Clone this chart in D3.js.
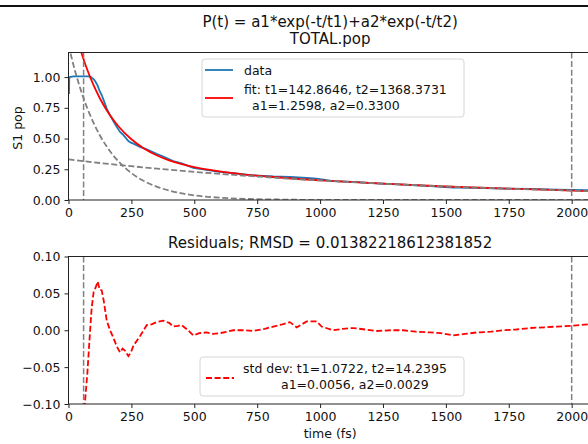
<!DOCTYPE html>
<html>
<head>
<meta charset="utf-8">
<script src="https://cdn.jsdelivr.net/npm/d3@7"></script>
<style>
  body { margin: 0; background: #fff; }
  text { font-family: "DejaVu Sans", sans-serif; fill: #111; }
</style>
</head>
<body>
<script>
// values
let dataT = [0, 1, 2, 3, 5, 20, 40, 60, 80, 90, 95, 100, 108, 116, 124, 132, 140, 152, 165, 178, 192, 205, 215, 225, 238, 248, 258, 284, 311, 350, 377, 416, 450, 496, 549, 601, 655, 735, 814, 880, 947, 986, 1053, 1132, 1225, 1331, 1437, 1529, 1622, 1728, 1834, 1940, 2000, 2065, 2080]
let dataPop = [1.0, 0.87, 0.87, 0.99, 1.0, 1.005, 1.005, 1.005, 1.005, 1.0, 0.99, 0.983, 0.96, 0.93, 0.885, 0.854, 0.81, 0.743, 0.69, 0.642, 0.593, 0.553, 0.535, 0.512, 0.48, 0.467, 0.459, 0.432, 0.412, 0.375, 0.354, 0.317, 0.298, 0.262, 0.245, 0.228, 0.218, 0.201, 0.191, 0.187, 0.179, 0.174, 0.153, 0.1475, 0.135, 0.1244, 0.113, 0.101, 0.098, 0.0933, 0.0895, 0.085, 0.0825, 0.081, 0.08]

let fitT = [0, 25, 50, 75, 100, 125, 150, 175, 200, 250, 300, 350, 400, 450, 500, 600, 700, 800, 900, 1000, 1250, 1500, 1750, 2000, 2080]
let fitPop = [1.590, 1.382, 1.206, 1.058, 0.932, 0.826, 0.737, 0.661, 0.596, 0.494, 0.419, 0.364, 0.323, 0.292, 0.267, 0.232, 0.207, 0.189, 0.173, 0.160, 0.133, 0.110, 0.092, 0.077, 0.072]

let comp1T = [0, 25, 50, 75, 100, 125, 150, 175, 200, 250, 300, 350, 400, 450, 500, 600, 700, 800, 900, 1000, 1250, 1500, 2080]
let comp1Pop = [1.26, 1.058, 0.888, 0.745, 0.626, 0.525, 0.441, 0.370, 0.311, 0.219, 0.154, 0.109, 0.077, 0.054, 0.038, 0.019, 0.009, 0.005, 0.002, 0.001, 0.0, 0.0, 0.0]

let comp2T = [0, 125, 250, 375, 500, 625, 750, 875, 1000, 1250, 1500, 1750, 2000, 2080]
let comp2Pop = [0.33, 0.301, 0.275, 0.251, 0.229, 0.209, 0.191, 0.174, 0.159, 0.133, 0.110, 0.092, 0.0765, 0.072]

let resT = [60, 66, 75, 85, 92, 100, 108, 116, 124, 132, 140, 152, 165, 178, 192, 205, 215, 225, 238, 248, 258, 284, 311, 330, 350, 377, 400, 416, 435, 450, 475, 496, 520, 549, 575, 601, 630, 655, 700, 735, 780, 814, 850, 880, 907, 947, 986, 1006, 1053, 1090, 1132, 1180, 1225, 1280, 1331, 1380, 1437, 1480, 1529, 1575, 1622, 1680, 1728, 1780, 1834, 1890, 1940, 2000, 2065, 2080]
let resVal = [-0.13, -0.095, -0.058, -0.005, 0.03, 0.052, 0.058, 0.066, 0.055, 0.054, 0.04, 0.013, 0.0, -0.01, -0.022, -0.03, -0.025, -0.028, -0.035, -0.03, -0.021, -0.008, 0.007, 0.008, 0.011, 0.013, 0.01, 0.005, 0.006, 0.007, 0.0, -0.007, -0.004, -0.003, -0.005, -0.004, -0.002, 0.0, 0.0, -0.001, 0.002, 0.005, 0.008, 0.011, 0.004, 0.012, 0.012, 0.005, 0.0, 0.002, 0.003, 0.001, -0.001, 0.0, 0.0, -0.002, -0.003, -0.004, -0.007, -0.005, -0.003, -0.002, 0.0, 0.001, 0.003, 0.004, 0.005, 0.006, 0.008, 0.008]

let fitRange = [60, 2000]
let xTicks = [0, 250, 500, 750, 1000, 1250, 1500, 1750, 2000]
let topTicks = [0, 0.25, 0.5, 0.75, 1.0]
let botTicks = [-0.1, -0.05, 0, 0.05, 0.1]

let w = 588
let h = 444
let svg = d3.select('body').append('svg').attr('width', w).attr('height', h)

let x = d3.scaleLinear().domain([0, 2080]).range([68.5, 591.8])
let yTop = d3.scaleLinear().domain([0, 1.2]).range([200, 52.5])
let yBot = d3.scaleLinear().domain([-0.1, 0.1]).range([404, 256.5])

// screenshot border line at the top
svg.append('line').attr('x1', 0).attr('x2', w).attr('y1', 6).attr('y2', 6)
  .attr('stroke', '#111').attr('stroke-width', 2)

let defs = svg.append('defs')
defs.append('clipPath').attr('id', 'clipTop').append('rect')
  .attr('x', x(0)).attr('y', yTop(1.2)).attr('width', x(2080) - x(0)).attr('height', yTop(0) - yTop(1.2))
defs.append('clipPath').attr('id', 'clipBot').append('rect')
  .attr('x', x(0)).attr('y', yBot(0.1)).attr('width', x(2080) - x(0)).attr('height', yBot(-0.1) - yBot(0.1))

function pts(ts, vs) { return ts.map((t, i) => [t, vs[i]]) }

let lineTop = d3.line().x(d => x(d[0])).y(d => yTop(d[1]))
let smoothTop = d3.line().x(d => x(d[0])).y(d => yTop(d[1])).curve(d3.curveMonotoneX)
let lineBot = d3.line().x(d => x(d[0])).y(d => yBot(d[1]))

let dash = '6,2.6'

// ---- top panel
let gTop = svg.append('g').attr('clip-path', 'url(#clipTop)')
gTop.append('path').attr('d', lineTop(pts(dataT, dataPop)))
  .attr('fill', 'none').attr('stroke', '#1f77b4').attr('stroke-width', 1.8)
gTop.append('path').attr('d', smoothTop(pts(fitT, fitPop)))
  .attr('fill', 'none').attr('stroke', 'red').attr('stroke-width', 1.8)
gTop.append('path').attr('d', smoothTop(pts(comp1T, comp1Pop)))
  .attr('fill', 'none').attr('stroke', 'gray').attr('stroke-width', 1.8).attr('stroke-dasharray', dash)
gTop.append('path').attr('d', smoothTop(pts(comp2T, comp2Pop)))
  .attr('fill', 'none').attr('stroke', 'gray').attr('stroke-width', 1.8).attr('stroke-dasharray', dash)
gTop.selectAll('line.vl').data(fitRange).enter().append('line').attr('class', 'vl')
  .attr('x1', d => x(d)).attr('x2', d => x(d)).attr('y1', yTop(1.2)).attr('y2', yTop(0))
  .attr('stroke', 'gray').attr('stroke-width', 1.5).attr('stroke-dasharray', dash)

// ---- bottom panel
let gBot = svg.append('g').attr('clip-path', 'url(#clipBot)')
gBot.selectAll('line.vl').data(fitRange).enter().append('line').attr('class', 'vl')
  .attr('x1', d => x(d)).attr('x2', d => x(d)).attr('y1', yBot(0.1)).attr('y2', yBot(-0.1))
  .attr('stroke', 'gray').attr('stroke-width', 1.5).attr('stroke-dasharray', dash)
gBot.append('path').attr('d', lineBot(pts(resT, resVal)))
  .attr('fill', 'none').attr('stroke', 'red').attr('stroke-width', 1.8).attr('stroke-dasharray', dash)

// ---- axes
let fmt2 = d => d3.format('.2f')(d).replace('-', '\u2212')
function frame(y0, y1) {
  svg.append('rect').attr('x', x(0)).attr('y', y1).attr('width', x(2080) - x(0)).attr('height', y0 - y1)
    .attr('fill', 'none').attr('stroke', '#222').attr('stroke-width', 1)
}
function axes(y, ticks, yB) {
  let ax = svg.append('g').attr('transform', 'translate(0,' + yB + ')')
    .call(d3.axisBottom(x).tickValues(xTicks).tickSize(4).tickPadding(4).tickFormat(d3.format('d')))
  let ay = svg.append('g').attr('transform', 'translate(' + x(0) + ',0)')
    .call(d3.axisLeft(y).tickValues(ticks).tickSize(4).tickPadding(4).tickFormat(fmt2))
  ;[ax, ay].forEach(a => {
    a.select('.domain').remove()
    a.selectAll('line').attr('stroke', '#222')
    a.selectAll('text').attr('font-size', '12.5px').attr('fill', '#111')
      .style('font-family', '"DejaVu Sans", sans-serif')
  })
}
frame(yTop(0), yTop(1.2))
frame(yBot(-0.1), yBot(0.1))
axes(yTop, topTicks, yTop(0))
axes(yBot, botTicks, yBot(-0.1))

// ---- titles and labels
let cx = (x(0) + x(2080)) / 2
svg.append('text').attr('x', cx).attr('y', 27).attr('text-anchor', 'middle').attr('font-size', '15px')
  .text('P(t) = a1*exp(-t/t1)+a2*exp(-t/t2)')
svg.append('text').attr('x', cx).attr('y', 44).attr('text-anchor', 'middle').attr('font-size', '15px')
  .text('TOTAL.pop')
svg.append('text').attr('x', cx).attr('y', 248).attr('text-anchor', 'middle').attr('font-size', '15px')
  .text('Residuals; RMSD = 0.01382218612381852')
svg.append('text').attr('transform', 'translate(22,128) rotate(-90)').attr('text-anchor', 'middle')
  .attr('font-size', '12.5px').text('S1 pop')
svg.append('text').attr('x', cx).attr('y', 438).attr('text-anchor', 'middle')
  .attr('font-size', '12.5px').text('time (fs)')

// ---- legends
function legendBox(x0, y0, bw, bh) {
  svg.append('rect').attr('x', x0).attr('y', y0).attr('width', bw).attr('height', bh).attr('rx', 3)
    .attr('fill', 'white').attr('fill-opacity', 0.8).attr('stroke', '#d6d6d6')
}
legendBox(202, 59, 262, 58)
svg.append('line').attr('x1', 205).attr('x2', 233).attr('y1', 70).attr('y2', 70)
  .attr('stroke', '#1f77b4').attr('stroke-width', 1.8)
svg.append('text').attr('x', 244).attr('y', 75).attr('font-size', '12.5px').text('data')
svg.append('line').attr('x1', 205).attr('x2', 233).attr('y1', 98).attr('y2', 98)
  .attr('stroke', 'red').attr('stroke-width', 1.8)
svg.append('text').attr('x', 244).attr('y', 94).attr('font-size', '12.5px').text('fit: t1=142.8646, t2=1368.3731')
svg.append('text').attr('x', 252).attr('y', 110).attr('font-size', '12.5px').text('a1=1.2598, a2=0.3300')

legendBox(200, 357, 264, 39)
svg.append('line').attr('x1', 206).attr('x2', 234).attr('y1', 378).attr('y2', 378)
  .attr('stroke', 'red').attr('stroke-width', 1.8).attr('stroke-dasharray', dash)
svg.append('text').attr('x', 243).attr('y', 373).attr('font-size', '12.5px').text('std dev: t1=1.0722, t2=14.2395')
svg.append('text').attr('x', 281).attr('y', 389).attr('font-size', '12.5px').text('a1=0.0056, a2=0.0029')
</script>
</body>
</html>
